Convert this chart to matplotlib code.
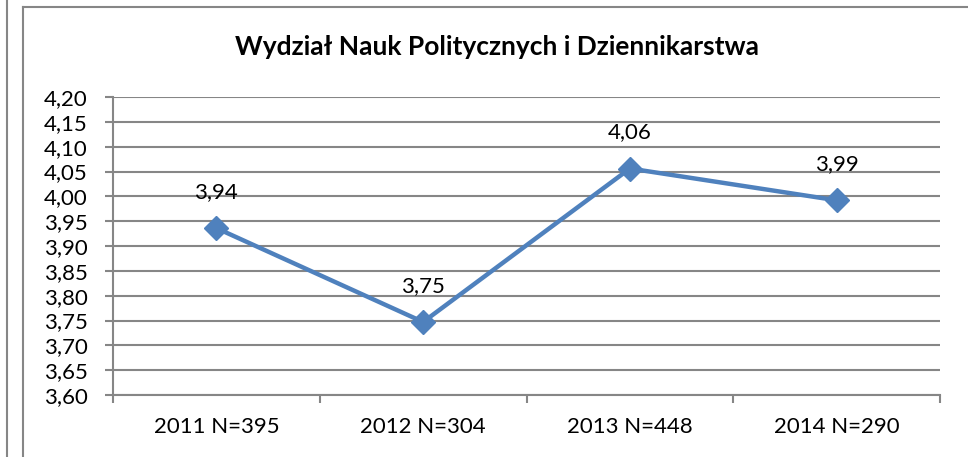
import matplotlib
matplotlib.use("Agg")
import matplotlib.pyplot as plt
from matplotlib.lines import Line2D

plt.rcParams['font.family'] = ['Lato', 'DejaVu Sans']

title = "Wydział Nauk Politycznych i Dziennikarstwa"
categories = ["2011 N=395", "2012 N=304", "2013 N=448", "2014 N=290"]
values = [3.936, 3.747, 4.056, 3.992]
yticks = [3.60, 3.65, 3.70, 3.75, 3.80, 3.85, 3.90, 3.95, 4.00, 4.05, 4.10, 4.15, 4.20]

W, H = 968, 457
fig = plt.figure(figsize=(W/100, H/100), dpi=100)
fig.patch.set_facecolor('white')

# plot area in pixels: left 113, right 940, top 97, bottom 395
l, r, t, b = 113, 940, 97, 395
ax = fig.add_axes([l/W, 1 - b/H, (r-l)/W, (b-t)/H])

grid_c = '#868686'
fs = 16
x = list(range(len(categories)))
ax.set_xlim(-0.5, len(categories) - 0.5)
ax.set_ylim(3.60, 4.20)
ax.set_yticks(yticks)
ax.set_yticklabels([f"{v:.2f}".replace('.', ',') for v in yticks], fontsize=fs)
for yv in yticks:
    ax.axhline(yv, color=grid_c, lw=1.5, zorder=1)

ax.set_xticks([i - 0.5 for i in range(len(categories) + 1)], minor=False)
ax.set_xticklabels([])
ax.set_xticks(x, minor=True)
ax.set_xticklabels(categories, minor=True, fontsize=fs)
ax.tick_params(axis='x', which='minor', length=0, pad=16)
ax.tick_params(axis='x', which='major', length=6, width=1.5, color=grid_c)
ax.tick_params(axis='y', length=6, width=1.5, color=grid_c, pad=12)

for s in ['top', 'right']:
    ax.spines[s].set_visible(False)
ax.spines['left'].set_color(grid_c)
ax.spines['left'].set_linewidth(1.5)
ax.spines['bottom'].set_color(grid_c)
ax.spines['bottom'].set_linewidth(1.5)

ax.plot(x, values, color='#4F81BD', lw=3.2, marker='D', markersize=12,
        markerfacecolor='#4F81BD', markeredgecolor='#4F81BD', zorder=3, clip_on=False)
for xi, v in zip(x, values):
    ax.annotate(f"{v:.2f}".replace('.', ','), (xi, v), xytext=(0, 26),
                textcoords='offset points', ha='center', va='center', fontsize=fs)

fig.text(497/W, 1 - 47/H, title, ha='center', va='center', fontsize=19, fontweight='bold')

# borders
fig.add_artist(Line2D([7/W, 7/W], [0, 1], color=grid_c, lw=1.5, transform=fig.transFigure))
fig.add_artist(Line2D([23/W, 23/W], [0, 1 - 7/H], color=grid_c, lw=1.5, transform=fig.transFigure))
fig.add_artist(Line2D([23/W, 1], [1 - 7/H, 1 - 7/H], color=grid_c, lw=1.5, transform=fig.transFigure))

fig.savefig('out.png', dpi=100)
